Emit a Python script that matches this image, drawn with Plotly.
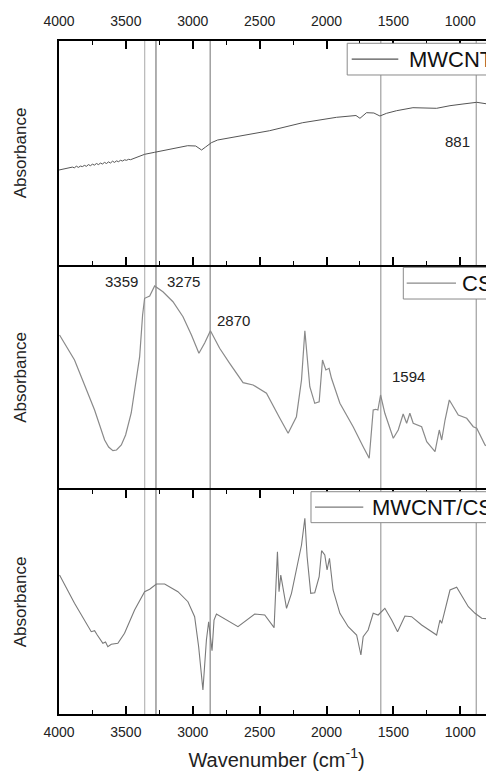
import plotly.graph_objects as go

# ---------------- data ----------------
mwcnt_wn = [4000, 3921, 3900, 3885, 3870, 3855, 3840, 3825, 3810, 3795, 3780, 3765, 3750, 3735, 3720,
            3705, 3690, 3675, 3660, 3645, 3630, 3615, 3600, 3585, 3570, 3555, 3540, 3525, 3510, 3495,
            3480, 3465, 3450, 3360, 3285, 3038, 2978, 2934, 2904, 2861, 2814, 2574, 2425, 2178, 1925,
            1780, 1750, 1701, 1646, 1601, 1551, 1476, 1354, 1177, 1077, 980, 877, 748]
mwcnt_ab = [95, 97, 97.9, 97.2, 98.8, 97.6, 98.9, 98.4, 99.6, 98.7, 100.4, 99.3, 100.8, 99.9, 101.5,
            100.4, 101.9, 101.0, 102.6, 101.5, 103.1, 102.0, 103.8, 102.6, 104.1, 103.3, 104.7, 104.0, 105.2, 104.7,
            105.7, 105.3, 106.1, 110.7, 112.7, 119.3, 119, 115, 118, 122.3, 125, 130.5, 134.3, 142.3, 147.7,
            149.5, 146.7, 152.3, 152, 149, 151.7, 154.3, 157.3, 156.7, 159.3, 161, 162.7, 160]

cs_wn = [3996, 3884, 3809, 3734, 3659, 3629, 3597, 3570, 3534, 3502, 3460, 3427, 3397, 3375, 3360,
         3322, 3285, 3223, 3148, 3073, 3010, 2954, 2911, 2868, 2799, 2724, 2624, 2549, 2449, 2350,
         2287, 2225, 2187, 2162, 2125, 2088, 2055, 2030, 2005, 1981, 1963, 1900, 1801, 1726, 1681,
         1651, 1633, 1616, 1596, 1564, 1501, 1464, 1427, 1401, 1377, 1352, 1289, 1251, 1189, 1157,
         1139, 1114, 1082, 1052, 1015, 952, 903, 877, 815, 748]
cs_ab = [155, 130, 105, 80, 50, 43, 39.3, 40, 45, 55, 77, 105, 133.3, 175, 191.7,
         194, 204, 198.3, 188.3, 173.3, 155, 136.7, 147, 159.3, 141.7, 126.7, 107.3, 105, 96.7, 72,
         56.7, 73.3, 110, 159.3, 103.3, 86.7, 88.3, 130, 120, 121.7, 111.7, 86.7, 63.3, 43.3, 31.7,
         80, 80.7, 80, 95, 76.7, 51.7, 60, 76, 66.7, 76.7, 66.7, 63.3, 48.3, 38.3, 60,
         50, 70, 90, 83.3, 75, 71.7, 63.3, 61.7, 45, 40]

comp_wn = [3996, 3884, 3759, 3734, 3714, 3672, 3652, 3635, 3609, 3560, 3510, 3435, 3360, 3322, 3272,
           3210, 3111, 3036, 2986, 2956, 2924, 2898, 2881, 2866, 2856, 2841, 2823, 2662, 2537, 2462,
           2392, 2367, 2355, 2342, 2325, 2299, 2262, 2187, 2162, 2145, 2118, 2088, 2055, 2037, 2013,
           1996, 1978, 1951, 1900, 1838, 1775, 1743, 1726, 1689, 1651, 1614, 1564, 1513, 1469, 1414,
           1364, 1289, 1177, 1152, 1139, 1077, 1027, 1002, 940, 890, 840, 748]
comp_ab = [139, 110.7, 82.3, 83.3, 79, 70.7, 72, 67.3, 69.7, 70.7, 80.7, 104, 122.3, 124.7, 130,
           130, 122.3, 112.3, 97.3, 67.3, 24, 74, 92.3, 77.3, 63.3, 94, 100, 87.3, 100, 99,
           86.3, 162.3, 122.3, 139, 124, 105.7, 120.7, 169, 195.7, 157.3, 120.7, 121.3, 137.3, 163.3, 159,
           144, 155.7, 124, 100.7, 87.3, 79, 59, 77.3, 84, 100.7, 99, 105.7, 94, 82.3, 98,
           97.3, 89, 79, 94, 90.7, 124, 126.7, 120.7, 107.3, 100.7, 95.7, 94.7]

series_names = ["MWCNT", "CS", "MWCNT/CS"]
series_colors = ["#555555", "#8a8a8a", "#7a7a7a"]
peak_lines = [3359, 3275, 2870, 1594, 881]
peak_line_colors = ["#a8a8a8", "#606060", "#707070", "#8c8c8c", "#8c8c8c"]

# peak labels: (text, wavenumber, absorbance, panel)
peak_labels = [("881", 1019, 124, 1), ("3359", 3534, 209, 2), ("3275", 3073, 209, 2),
               ("2870", 2699, 169.3, 2), ("1594", 1389, 114, 2)]

x_ticks = [4000, 3500, 3000, 2500, 2000, 1500, 1000]
x_range = [4000, 748]

# ---------------- figure ----------------
FONT = "Arial, Liberation Sans, sans-serif"
H_PLOT = 673.0
d_bot = [0, 224 / H_PLOT]
d_mid = [224 / H_PLOT, 449 / H_PLOT]
d_top = [449 / H_PLOT, 1]

fig = go.Figure()
fig.add_trace(go.Scatter(x=mwcnt_wn, y=mwcnt_ab, mode="lines", name=series_names[0],
                         line=dict(color=series_colors[0], width=1), xaxis="x", yaxis="y"))
fig.add_trace(go.Scatter(x=cs_wn, y=cs_ab, mode="lines", name=series_names[1],
                         line=dict(color=series_colors[1], width=1.2), xaxis="x2", yaxis="y2"))
fig.add_trace(go.Scatter(x=comp_wn, y=comp_ab, mode="lines", name=series_names[2],
                         line=dict(color=series_colors[2], width=1.1), xaxis="x3", yaxis="y3"))

for xv, col in zip(peak_lines, peak_line_colors):
    fig.add_shape(type="line", xref="x3", yref="paper", x0=xv, x1=xv, y0=0, y1=1,
                  line=dict(color=col, width=1), layer="below")

for txt, xv, yv, p in peak_labels:
    fig.add_annotation(text=txt, x=xv, y=yv, xref="x" if p == 1 else "x%d" % p,
                       yref="y" if p == 1 else "y%d" % p, showarrow=False,
                       font=dict(size=15, color="#222222", family=FONT))

# per-panel legend boxes (box left, box top, box bottom, sample start, sample end, text start) in paper units
legend_boxes = [
    (0.6625, 0.9966, 0.9495, 0.6729, 0.7800, 0.8010),
    (0.7915, 0.6637, 0.6166, 0.7993, 0.9126, 0.9215),
    (0.5793, 0.3303, 0.2843, 0.5885, 0.6995, 0.7149),
]
for name, col, (bx0, by1, by0, lx0, lx1, tx) in zip(series_names, series_colors, legend_boxes):
    fig.add_shape(type="rect", xref="paper", yref="paper", x0=bx0, x1=1.05, y0=by0, y1=by1,
                  line=dict(color="#8a8a8a", width=1), fillcolor="white", layer="above")
    ym = (by0 + by1) / 2
    fig.add_shape(type="line", xref="paper", yref="paper", x0=lx0, x1=lx1, y0=ym, y1=ym,
                  line=dict(color=col, width=1.2), layer="above")
    fig.add_annotation(text=name, xref="paper", yref="paper", x=tx, y=ym, xanchor="left",
                       yanchor="middle", showarrow=False,
                       font=dict(size=22, color="#111111", family=FONT))

common_x = dict(range=x_range, linecolor="black", linewidth=1.6, automargin=False,
                showgrid=False, zeroline=False, tickvals=x_ticks)
minor = dict(ticks="inside", ticklen=4, tickwidth=1.3, dtick=250, tick0=0, tickcolor="black", showgrid=False)

layout_x = dict(
    xaxis=dict(common_x, domain=[0, 1], anchor="y", side="top", showline=True, ticks="inside", ticklen=8,
               tickwidth=1.6, tickcolor="black", mirror="ticks", showticklabels=True, minor=minor,
               ticklabelstandoff=8,
               tickfont=dict(size=14, color="#222222", family=FONT)),
    xaxis2=dict(common_x, domain=[0, 1], anchor="y2", showline=False, ticks="", showticklabels=False,
                matches="x"),
    xaxis3=dict(common_x, domain=[0, 1], anchor="y3", side="bottom", showline=True, ticks="inside", ticklen=8,
                tickwidth=1.6, tickcolor="black", mirror="ticks", showticklabels=True, minor=minor,
                matches="x", ticklabelstandoff=4,
                tickfont=dict(size=14, color="#222222", family=FONT),
                title=dict(text="Wavenumber (cm<sup>-1</sup>)", font=dict(size=20, color="#222222", family=FONT),
                           standoff=14)),
)
ytitle = dict(text="Absorbance", font=dict(size=17, color="#222222", family=FONT), standoff=26)
common_y = dict(showline=True, linecolor="black", linewidth=1.6, showgrid=False, zeroline=False,
                ticks="", showticklabels=False, title=ytitle, automargin=False)
layout_y = dict(
    yaxis=dict(common_y, domain=d_top, range=[0, 224], anchor="x"),
    yaxis2=dict(common_y, domain=d_mid, range=[0, 225], anchor="x2"),
    yaxis3=dict(common_y, domain=d_bot, range=[0, 224], anchor="x3"),
)

# the page body adds an 8 px offset, so the figure is 8 px smaller than the window
fig.update_layout(
    width=486, height=766,
    margin=dict(l=51, r=0, t=33, b=60, autoexpand=False),
    paper_bgcolor="white", plot_bgcolor="white",
    font=dict(family=FONT),
    showlegend=False,
    **layout_x, **layout_y,
)

fig.write_html("out.html")
